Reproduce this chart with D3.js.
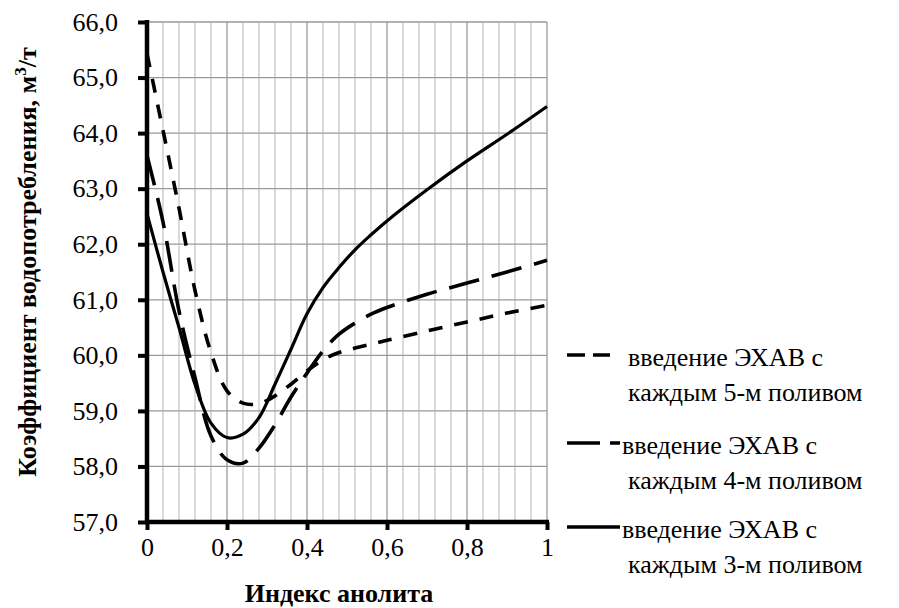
<!DOCTYPE html>
<html>
<head>
<meta charset="utf-8">
<script src="https://cdn.jsdelivr.net/npm/d3@7"></script>
</head>
<body style="margin:0;background:#fff">
<svg id="s" width="899" height="608"></svg>
<script>
// ---- data ----
const xValues = [0, 0.04, 0.08, 0.12, 0.16, 0.2, 0.24, 0.28, 0.32, 0.36, 0.4, 0.44, 0.48, 0.52, 0.56, 0.6, 0.7, 0.8, 0.9, 1];
const series5 = [65.43, 64.05, 62.65, 61.17, 60.05, 59.36, 59.14, 59.13, 59.27, 59.48, 59.72, 59.92, 60.05, 60.13, 60.2, 60.27, 60.44, 60.6, 60.76, 60.9];
const series4 = [63.6, 62.4, 60.8, 59.6, 58.55, 58.12, 58.06, 58.33, 58.75, 59.25, 59.68, 60.08, 60.38, 60.58, 60.74, 60.86, 61.1, 61.3, 61.5, 61.71];
const series3 = [62.55, 61.5, 60.5, 59.48, 58.78, 58.52, 58.58, 58.88, 59.48, 60.11, 60.75, 61.22, 61.58, 61.9, 62.17, 62.42, 62.98, 63.5, 63.98, 64.48];
const legendLines1 = ["введение ЭХАВ с", "введение ЭХАВ с", "введение ЭХАВ с"];
const legendLines2 = ["каждым 5-м поливом", "каждым 4-м поливом", "каждым 3-м поливом"];
const xTicks = [0, 0.2, 0.4, 0.6, 0.8, 1];
const xTickLabels = ["0", "0,2", "0,4", "0,6", "0,8", "1"];
const yTicks = [57, 58, 59, 60, 61, 62, 63, 64, 65, 66];
const yTickLabels = ["57,0", "58,0", "59,0", "60,0", "61,0", "62,0", "63,0", "64,0", "65,0", "66,0"];
const xTitle = "Индекс анолита";
const yTitle = "Коэффициент водопотребления, м";

const FSTYLE = "font-family: 'Liberation Serif', monospace !important;";

// ---- layout ----
const L = 147, R = 547, T = 22, B = 522;
const svg = d3.select("#s");
const x = d3.scaleLinear().domain([0, 1]).range([L, R]);
const y = d3.scaleLinear().domain([57, 66]).range([B, T]);

// grid: vertical minor every 0.04, major every 0.2
const minorX = d3.range(1, 25).map(i => i * 0.04).filter(v => Math.abs(v / 0.2 - Math.round(v / 0.2)) > 1e-6);
svg.append("g").selectAll("line").data(minorX).join("line")
  .attr("x1", d => x(d)).attr("x2", d => x(d)).attr("y1", T).attr("y2", B)
  .attr("stroke", "#c8c8c8").attr("stroke-width", 1.3);
svg.append("g").selectAll("line").data(xTicks.filter(v => v > 0)).join("line")
  .attr("x1", d => x(d)).attr("x2", d => x(d)).attr("y1", T).attr("y2", B)
  .attr("stroke", "#9a9a9a").attr("stroke-width", 1.3);
svg.append("g").selectAll("line").data(yTicks.filter(v => v > 57)).join("line")
  .attr("x1", L).attr("x2", R).attr("y1", d => y(d)).attr("y2", d => y(d))
  .attr("stroke", "#9a9a9a").attr("stroke-width", 1.3);

// series
const line = d3.line().x(d => x(d[0])).y(d => y(d[1])).curve(d3.curveCatmullRom.alpha(0.5));
const styles = [
  { dash: "14,12", width: 3.6 },
  { dash: "31,13", width: 3.6 },
  { dash: null, width: 3.2 }
];
const allSeries = [series5, series4, series3];
allSeries.forEach((s, i) => {
  svg.append("path")
    .datum(xValues.map((v, j) => [v, s[j]]))
    .attr("d", line)
    .attr("fill", "none")
    .attr("stroke", "#000")
    .attr("stroke-width", styles[i].width)
    .attr("stroke-dasharray", styles[i].dash)
    .attr("stroke-linecap", "butt");
});

// axes
const xAxis = d3.axisBottom(x).tickValues(xTicks).tickFormat((d, i) => xTickLabels[i]).tickSize(8).tickPadding(8);
const gx = svg.append("g").attr("transform", `translate(0,${B})`).call(xAxis).attr("font-size", 26).attr("style", FSTYLE);
gx.select(".domain").attr("stroke", "#000").attr("stroke-width", 4.5).attr("d", `M${L - 2},0H${R + 2}`);
gx.selectAll(".tick line").attr("stroke", "#000").attr("stroke-width", 4);
gx.selectAll(".tick text").attr("font-size", 26).attr("style", FSTYLE).attr("fill", "#000");

const yAxis = d3.axisLeft(y).tickValues(yTicks).tickFormat((d, i) => yTickLabels[i]).tickSize(9).tickPadding(20);
const gy = svg.append("g").attr("transform", `translate(${L},0)`).call(yAxis).attr("font-size", 26).attr("style", FSTYLE);
gy.select(".domain").attr("stroke", "#000").attr("stroke-width", 4.5).attr("d", `M0,${T - 2}V${B + 2}`);
gy.selectAll(".tick line").attr("stroke", "#000").attr("stroke-width", 4);
gy.selectAll(".tick text").attr("font-size", 26).attr("style", FSTYLE).attr("fill", "#000");

// titles
svg.append("text")
  .attr("x", 339).attr("y", 602)
  .attr("text-anchor", "middle")
  .attr("style", FSTYLE)
  .attr("font-size", 26).attr("font-weight", "bold")
  .text(xTitle);

const yt = svg.append("text")
  .attr("transform", "translate(36,262) rotate(-90)")
  .attr("text-anchor", "middle")
  .attr("style", FSTYLE)
  .attr("font-size", 26).attr("font-weight", "bold");
yt.append("tspan").text(yTitle);
yt.append("tspan").attr("font-size", 17).attr("dy", -10).text("3");
yt.append("tspan").attr("dy", 10).text("/т");

// legend
const legY = [355, 443, 527];
const legDash = ["18,8", "33,10", null];
const legText1X = [628, 622, 622];
legY.forEach((ly, i) => {
  svg.append("line")
    .attr("x1", 567).attr("x2", i === 0 ? 610 : 620)
    .attr("y1", ly).attr("y2", ly)
    .attr("stroke", "#000").attr("stroke-width", 3.6)
    .attr("stroke-dasharray", legDash[i]);
  svg.append("text").attr("x", legText1X[i]).attr("y", ly + 11)
    .attr("style", FSTYLE)
    .attr("font-size", 26).text(legendLines1[i]);
  svg.append("text").attr("x", 628).attr("y", ly + 46)
    .attr("style", FSTYLE)
    .attr("font-size", 26).text(legendLines2[i]);
});
</script>
</body>
</html>
